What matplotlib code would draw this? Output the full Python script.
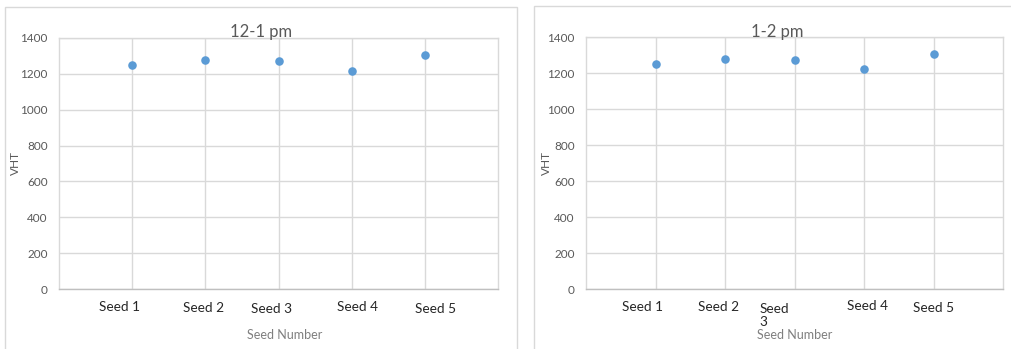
#!/usr/bin/env python3
"""
VHT per seed, two time windows, side by side (Excel-style scatter)
"""

import matplotlib
matplotlib.use('Agg')
import matplotlib.pyplot as plt
import matplotlib.patches as mpatches

plt.rcParams['font.family'] = ['Lato', 'DejaVu Sans']

# Data
seed_pos = [1, 2, 3, 4, 5]
vht_12_1 = [1248, 1277, 1270, 1218, 1303]
vht_1_2 = [1248, 1278, 1270, 1220, 1304]
titles = ['12-1 pm', '1-2 pm']
y_ticks = [0, 200, 400, 600, 800, 1000, 1200, 1400]

# hand-placed category labels (they sit off the gridlines in the original)
labels_left = ['Seed 1', 'Seed 2', 'Seed 3', 'Seed 4', 'Seed 5']
labels_left_x = [0.83, 1.97, 2.90, 4.08, 5.15]
labels_left_dy = [0, 1, 2, 0, 2]
labels_right = ['Seed 1', 'Seed 2', 'Seed\n3', 'Seed 4', 'Seed 5']
labels_right_x = [0.82, 1.91, 2.50, 4.05, 5.00]
labels_right_dy = [0, 0, 2, -1, 1]

GRID = '#D9D9D9'
BLUE = '#5B9BD5'
GREY_TXT = '#595959'

fig = plt.figure(figsize=(10.11, 3.49), dpi=100)

# panel borders (pixel coords -> figure fraction)
W, H = 1011, 349
for x0, y0, x1 in [(5, 7, 517), (534, 6, 1015)]:
    fig.patches.append(mpatches.Rectangle((x0 / W, -0.05), (x1 - x0) / W, 1 - y0 / H + 0.05,
                                          transform=fig.transFigure, fill=False,
                                          edgecolor=GRID, linewidth=1.0))

ax_l = fig.add_axes([59 / W, 1 - 289 / H, (498 - 59) / W, (289 - 38) / H])
ax_r = fig.add_axes([586 / W, 1 - 289 / H, (1003 - 586) / W, (289 - 37) / H])

panels = [
    (ax_l, vht_12_1, titles[0], labels_left, labels_left_x, labels_left_dy, 261, 15, 285),
    (ax_r, vht_1_2, titles[1], labels_right, labels_right_x, labels_right_dy, 777, 546, 795),
]

for ax, vals, title, labs, labx, labdy, title_x, ylab_x, xlab_x in panels:
    ax.scatter(seed_pos, vals, s=38, color=BLUE, zorder=3, linewidths=0)
    ax.set_xlim(0, 6)
    ax.set_ylim(0, 1400)
    ax.set_yticks(y_ticks)
    ax.set_xticks(seed_pos)
    ax.set_xticklabels([])
    ax.grid(True, color=GRID, linewidth=1.0)
    ax.set_axisbelow(True)
    ax.tick_params(length=0, labelsize=8.5, labelcolor=GREY_TXT, pad=8)
    for sp in ax.spines.values():
        sp.set_color(GRID)
        sp.set_linewidth(1.0)
    ax.spines['bottom'].set_color('#BFBFBF')

    for lab, lx, dy in zip(labs, labx, labdy):
        wrapped = '\n' in lab
        ax.annotate(lab, xy=(lx, 0), xycoords=('data', 'axes fraction'),
                    xytext=(0, -12 - dy), textcoords='offset pixels',
                    ha='left' if wrapped else 'center', va='top', multialignment='left',
                    fontsize=9.8, color='#262626', linespacing=1.15)

    fig.text(title_x / W, 1 - 32 / H, title, ha='center', va='center', fontsize=12, color=GREY_TXT)
    fig.text(ylab_x / W, 1 - 163 / H, 'VHT', ha='center', va='center', rotation=90,
             fontsize=8.5, color=GREY_TXT)
    fig.text(xlab_x / W, 1 - 335 / H, 'Seed Number', ha='center', va='center',
             fontsize=9, color='#7F7F7F')

fig.savefig('out.png', dpi=100)
